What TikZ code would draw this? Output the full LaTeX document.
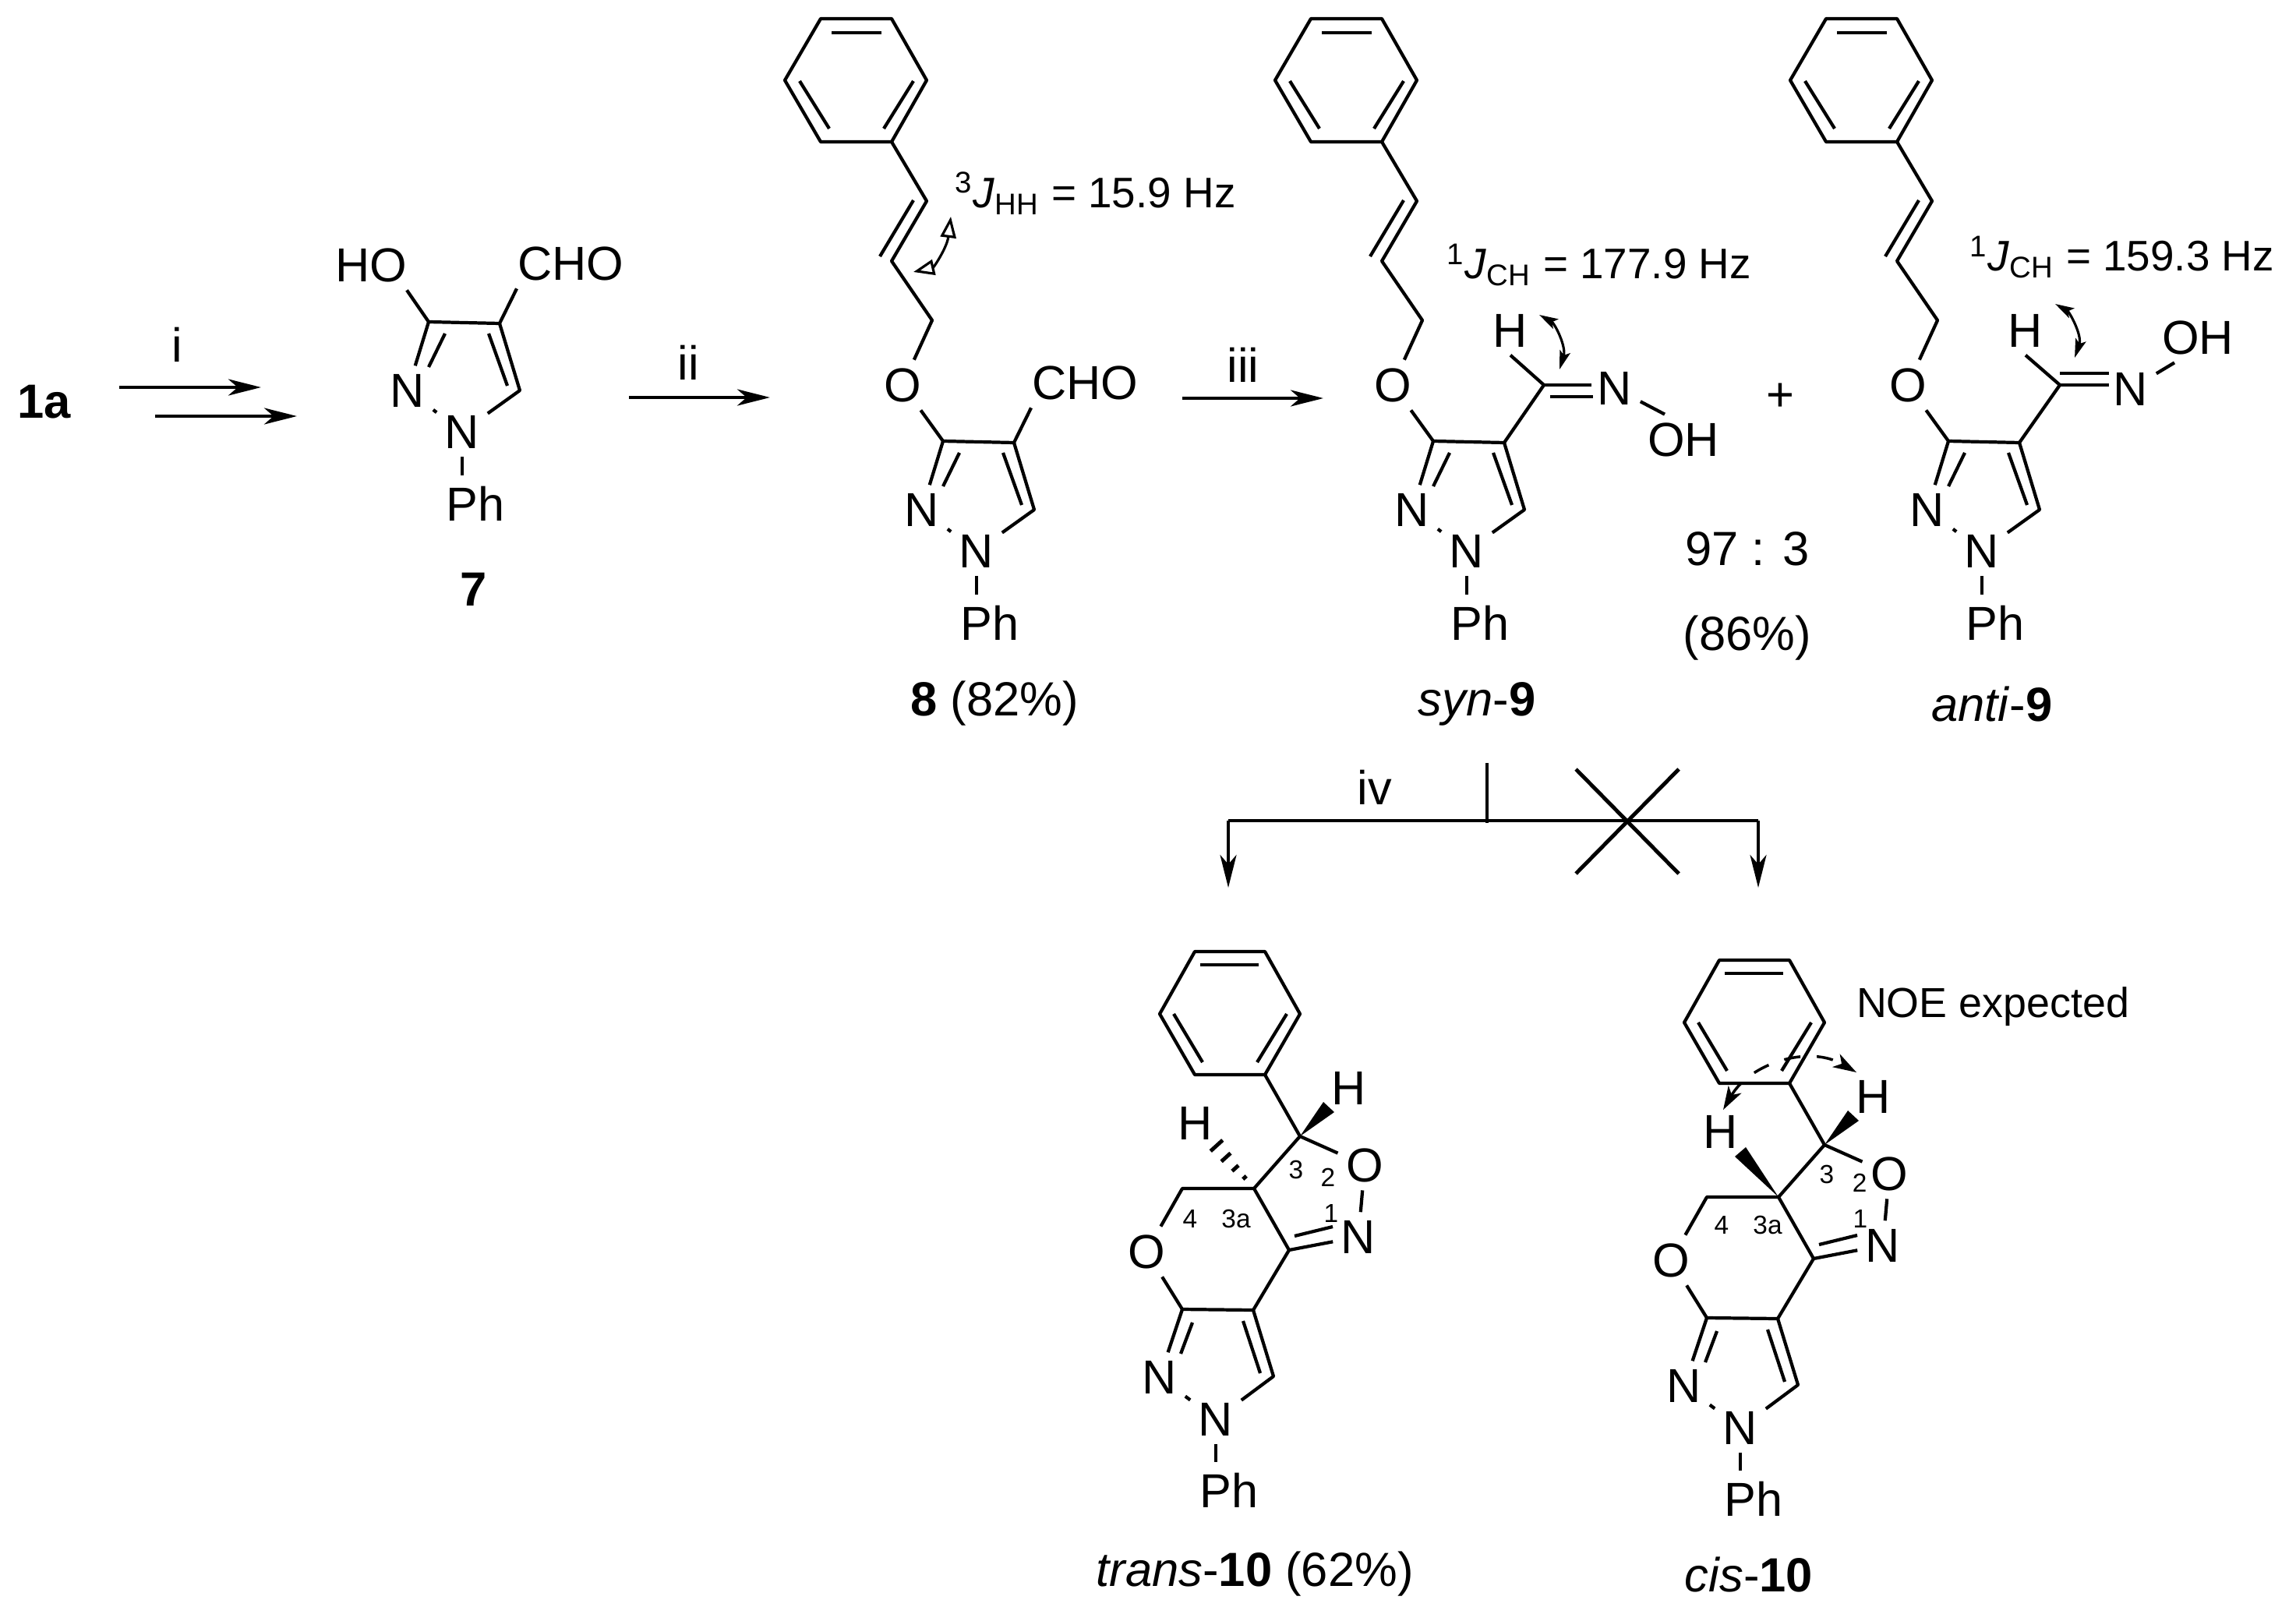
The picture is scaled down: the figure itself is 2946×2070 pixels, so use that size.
\documentclass[tikz,border=0pt]{standalone}
\usepackage{fontspec}
\setmainfont{Liberation Sans}
\usetikzlibrary{calc,arrows.meta}
\tikzset{
	bond/.style={line width=1.2pt,line join=round},
	atom/.style={font=\fontsize{17.4}{20}\selectfont,inner sep=0.1cm},
	cpd/.style={font=\fontsize{17.5}{20}\selectfont,inner sep=0},
	note/.style={font=\fontsize{15.6}{20}\selectfont,inner sep=0},
	num/.style={font=\fontsize{9.5}{11}\selectfont,inner sep=0},
	rxn/.style={line width=1.2pt,-{Stealth[length=0.42cm,width=0.21cm,inset=0.12cm]}},
	jarrow/.style={line width=0.9pt,{Stealth[length=0.24cm,width=0.14cm,inset=0.05cm]}-{Stealth[length=0.24cm,width=0.14cm,inset=0.05cm]}},
}
\begin{document}
\begin{tikzpicture}[x=0.01cm,y=-0.01cm]
	\useasboundingbox (0,0) rectangle (2946,2070);
	% pyrazole rings
	\foreach \i/\dx/\dy in {a/0/0,b/660/153,c/1289/153,d/1950/153}{
		\begin{scope}[shift={(\dx,\dy)}]
			\coordinate (Cx\i) at (550,413);
			\coordinate (Cy\i) at (641,415);
			\coordinate (Cz\i) at (667,501);
			\node[atom] (Nb\i) at (523,501) {N};
			\node[atom] (Na\i) at (593,554) {N};
			\node[atom,inner sep=0.13cm] (Ph\i) at (610,646) {Ph};
			\draw[bond] (Nb\i) -- (Cx\i) -- (Cy\i) -- (Cz\i) -- (Na\i) -- (Nb\i);
			\draw[bond] (571,428) -- (550,471);
			\draw[bond] (627,428) -- (651,495);
			\draw[bond] (Na\i.south) -- (Na\i.south |- Ph\i.north);
		\end{scope}
	}
	\node[atom] (HO) at (476,340) {HO};
	\node[atom] (CHOa) at (732,338) {CHO};
	\node[atom] (CHOb) at (1392,491) {CHO};
	\draw[bond] (Cxa) -- ($(HO.south)+(46,0)$);
	\draw[bond] (Cya) -- ($(CHOa.south)+(-69,0)$);
	\draw[bond] (Cyb) -- ($(CHOb.south)+(-69,0)$);
	% cinnamyl chains
	\foreach \i/\dx in {b/0,c/629,d/1290}{
		\begin{scope}[shift={(\dx,0)}]
			\node[atom] (O\i) at (1158,494) {O};
			\coordinate (Ca\i) at (1196,411);
			\coordinate (Cb\i) at (1144,335);
			\coordinate (Cc\i) at (1189,258);
			\coordinate (Cd\i) at (1144,182);
			\draw[bond] (Cx\i) -- (O\i) -- (Ca\i) -- (Cb\i) -- (Cc\i) -- (Cd\i);
			\draw[bond] (1129,329) -- (1172,257);
			\draw[bond] (Cd\i) -- (1053,182) -- (1007,103) -- (1053,24) -- (1144,24) -- (1189,103) -- cycle;
			\draw[bond] (1067,42) -- (1131,42);
			\draw[bond] (1026,104) -- (1064,165);
			\draw[bond] (1172,104) -- (1134,165);
		\end{scope}
	}
	% oximes
	\coordinate (Cs) at (1981,494);
	\node[atom] (Hs) at (1938,424) {H};
	\node[atom] (Ns) at (2072,498) {N};
	\node[atom] (OHs) at (2160,564) {OH};
	\draw[bond] (Cyc) -- (Cs) -- (Hs.south);
	\draw[bond] (Cs) -- (2042,494);
	\draw[bond] (1989,509) -- (2044,509);
	\draw[bond] (Ns) -- ($(OHs.north)+(-24,0)$);
	\coordinate (Ca) at (2643,494);
	\node[atom] (Ha) at (2599,424) {H};
	\node[atom] (Nn) at (2734,499) {N};
	\node[atom] (OHa) at (2820,433) {OH};
	\draw[bond] (Cyd) -- (Ca) -- (Ha.south);
	\draw[bond] (Ca) -- (2706,494);
	\draw[bond] (2643,479) -- (2706,479);
	\draw[bond] (Nn) -- ($(OHa.south)+(-30,0)$);
	% fused products
	\foreach \i/\dx/\dy in {e/0/0,f/673/11}{
		\begin{scope}[shift={(\dx,\dy)}]
			\coordinate (Cp\i) at (1623,1379);
			\coordinate (Cq\i) at (1668,1458);
			\coordinate (Cr\i) at (1609,1525);
			\coordinate (Cs\i) at (1517,1525);
			\coordinate (Ct\i) at (1654,1604);
			\coordinate (Cu\i) at (1608,1681);
			\coordinate (Cv\i) at (1517,1680);
			\coordinate (Cw\i) at (1634,1766);
			\node[atom] (Oa\i) at (1751,1495) {O};
			\node[atom] (Ob\i) at (1471,1606) {O};
			\node[atom] (Ne\i) at (1743,1587) {N};
			\node[atom] (Nb\i) at (1488,1767) {N};
			\node[atom] (Nc\i) at (1560,1821) {N};
			\node[atom,inner sep=0.13cm] (Phx\i) at (1577,1912) {Ph};
			\node[atom] (Hq\i) at (1731,1396) {H};
			\draw[bond] (Cp\i) -- (1533,1379) -- (1488,1301) -- (1533,1221) -- (1623,1221) -- (1668,1301) -- cycle;
			\draw[bond] (1540,1238) -- (1615,1238);
			\draw[bond] (1506,1301) -- (1543,1363);
			\draw[bond] (1651,1301) -- (1613,1363);
			\draw[bond] (Cp\i) -- (Cq\i) -- (Cr\i) -- (Cs\i) -- (Ob\i) -- (Cv\i) -- (Cu\i) -- (Ct\i) -- (Cr\i);
			\draw[bond] (Cq\i) -- (Oa\i) -- (Ne\i) -- (Ct\i);
			\draw[bond] (1661,1586) -- (1710,1574);
			\draw[bond] (Cv\i) -- (Nb\i) -- (Nc\i) -- (Cw\i) -- (Cu\i);
			\draw[bond] (1530,1697) -- (1515,1737);
			\draw[bond] (1595,1695) -- (1617,1762);
			\draw[bond] (Nc\i.south) -- (Nc\i.south |- Phx\i.north);
			\fill (Cq\i) -- (1698,1414) -- (1712,1427) -- cycle;
		\end{scope}
	}
	% H at 3a
	\node[atom] (Hre) at (1534,1441) {H};
	\foreach \cx/\cy/\w in {1597/1511/3,1585/1499/5.5,1573/1485/8,1561/1470/10.5}{
		\draw[line width=1.4pt] ({\cx-0.74*\w},{\cy+0.67*\w}) -- ({\cx+0.74*\w},{\cy-0.67*\w});
	}
	\node[atom] (Hrf) at (2208,1452) {H};
	\fill (Crf) -- (2226,1484) -- (2240,1472) -- cycle;
	% ring numbers
	\foreach \n/\x/\y/\t in {a/1663/1501/3,b/1704/1511/2,c/1708/1557/1,d/1527/1564/4,e/1586/1564/3a,f/2344/1507/3,g/2386/1518/2,h/2387/1564/1,j/2209/1572/4,k/2268/1572/3a}{
		\node[num] (num\n) at (\x,\y) {\t};
	}
	% arrows
	\node[cpd] (sm) at (57,516) {\textbf{1a}};
	\coordinate (ia) at (153,497);
	\coordinate (ib) at (335,497);
	\coordinate (ic) at (199,534);
	\coordinate (id) at (381,534);
	\draw[rxn] (ia) -- (ib);
	\draw[rxn] (ic) -- (id);
	\node[atom] (li) at (227,442) {i};
	\coordinate (iia) at (807,510);
	\coordinate (iib) at (988,510);
	\draw[rxn] (iia) -- (iib);
	\node[atom] (lii) at (883,465) {ii};
	\coordinate (iiia) at (1517,511);
	\coordinate (iiib) at (1698,511);
	\draw[rxn] (iiia) -- (iiib);
	\node[atom] (liii) at (1595,468) {iii};
	% branch
	\coordinate (bl) at (1576,1053);
	\coordinate (br) at (2256,1053);
	\coordinate (bm) at (1908,1053);
	\coordinate (bt) at (1908,979);
	\coordinate (bx) at (2088,1054);
	\draw[line width=1.4pt] (bl) -- (br);
	\draw[line width=1.1pt] (bt) -- ($(bm)+(0,3)$);
	\draw[rxn] (bl) -- (1576,1139);
	\draw[rxn] (br) -- (2256,1139);
	\draw[line width=1.4pt] (2022,987) -- (bx) -- (2154,1121);
	\draw[line width=1.4pt] (2154,987) -- (bx) -- (2022,1121);
	\node[atom] (liv) at (1764,1010) {iv};
	% coupling arrows
	\coordinate (ja) at (1172,349);
	\coordinate (jb) at (1220,278);
	\draw[line width=0.9pt,{Triangle[open,fill=white,length=0.27cm,width=0.2cm]}-{Triangle[open,fill=white,length=0.27cm,width=0.2cm]}] (ja) .. controls (1198,343) and (1215,318) .. (jb);
	\draw[jarrow] (1975,404) .. controls (1995,415) and (2010,445) .. (2001,474);
	\draw[jarrow] (2637,390) .. controls (2655,400) and (2672,430) .. (2662,459);
	\draw[line width=1pt,dash pattern=on 6pt off 6pt,{Stealth[length=0.3cm,width=0.19cm,inset=0.08cm]}-{Stealth[length=0.3cm,width=0.19cm,inset=0.08cm]}] (2211,1424) .. controls (2245,1365) and (2320,1340) .. (2382,1376);
	% labels
	\node[note,anchor=west] (jhh) at (1225,248) {\textsuperscript{3}\textit{J}\textsubscript{HH} = 15.9 Hz};
	\node[note,anchor=west] (jcs) at (1856,340) {\textsuperscript{1}\textit{J}\textsubscript{CH} = 177.9 Hz};
	\node[note,anchor=west] (jca) at (2527,330) {\textsuperscript{1}\textit{J}\textsubscript{CH} = 159.3 Hz};
	\node[cpd] (plus) at (2284,510) {+};
	\node[cpd] (ratio) at (2242,704) {97 : 3};
	\node[cpd] (yield) at (2242,819) {(86\%)};
	\node[cpd] (l7) at (608,756) {\textbf{7}};
	\node[cpd] (l8) at (1276,903) {\textbf{8} (82\%)};
	\node[cpd] (ls) at (1895,903) {\textit{syn}-\textbf{9}};
	\node[cpd] (la) at (2556,903) {\textit{anti}-\textbf{9}};
	\node[cpd] (lt) at (1610,2020) {\textit{trans}-\textbf{10} (62\%)};
	\node[cpd] (lc) at (2244,2020) {\textit{cis}-\textbf{10}};
	\node[font=\fontsize{15.3}{18}\selectfont,inner sep=0] (noe) at (2557,1292) {NOE expected};
\end{tikzpicture}
\end{document}
